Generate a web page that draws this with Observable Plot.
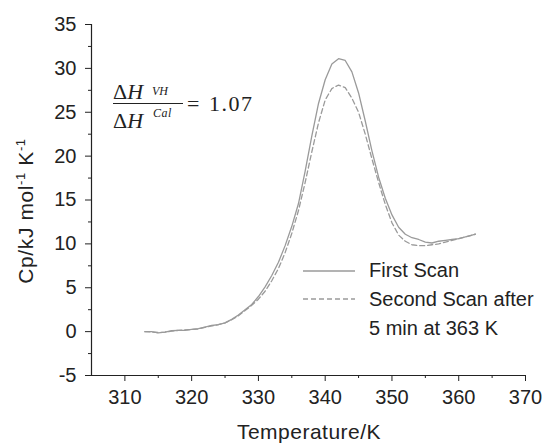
<!DOCTYPE html>
<html>
<head>
<meta charset="utf-8">
<script src="https://cdn.jsdelivr.net/npm/d3@7"></script>
<script src="https://cdn.jsdelivr.net/npm/@observablehq/plot@0.6"></script>
<style>
  html, body { margin: 0; padding: 0; background: #fff; }
  #chart { width: 543px; height: 444px; overflow: hidden; }
</style>
</head>
<body>
<div id="chart"></div>
<script>
// Temperature (K)
const temperature = [313,314,315,316,317,318,319,320,321,322,323,324,325,326,327,328,329,330,331,332,333,334,335,336,337,338,339,340,341,342,343,344,345,346,347,348,349,350,351,352,353,354,355,356,357,358,359,360,361,362,362.5];
// First scan Cp (kJ mol-1 K-1)
const firstScan = [0.0,0.0,-0.15,-0.05,0.1,0.15,0.15,0.25,0.35,0.5,0.7,0.8,1.0,1.4,1.9,2.5,3.1,4.0,5.1,6.4,7.9,9.8,12.0,14.6,18.3,22.3,26.0,28.7,30.5,31.1,30.9,29.6,27.2,24.0,20.6,17.6,15.2,13.3,11.9,11.1,10.7,10.5,10.2,10.1,10.3,10.4,10.5,10.6,10.8,11.0,11.1];
// Second scan after 5 min at 363 K
const secondScan = [0.0,-0.05,-0.1,-0.05,0.05,0.15,0.2,0.25,0.3,0.5,0.65,0.8,1.0,1.35,1.8,2.4,3.0,3.7,4.6,5.8,7.2,9.0,11.2,13.8,17.0,20.5,23.8,26.4,27.7,28.1,27.8,26.6,25.0,22.5,19.7,17.0,14.5,12.4,11.0,10.3,9.9,9.8,9.8,9.9,10.0,10.2,10.4,10.6,10.8,11.0,11.1];

const xMajor = [310,320,330,340,350,360,370];
const xMinor = [315,325,335,345,355,365];
const yMajor = [-5,0,5,10,15,20,25,30,35];
const yMinor = [-2.5,2.5,7.5,12.5,17.5,22.5,27.5,32.5];

const rows1 = temperature.map((t, i) => ({t, cp: firstScan[i]}));
const rows2 = temperature.map((t, i) => ({t, cp: secondScan[i]}));

const ink = "#222";
const lineGrey = "#9a9a9a";

const chart = Plot.plot({
  width: 543,
  height: 444,
  marginLeft: 91,
  marginRight: 18,
  marginTop: 24,
  marginBottom: 69,
  style: {fontFamily: "'Liberation Sans', Arial, sans-serif", fontSize: "20px", color: ink, background: "#fff"},
  x: {domain: [305, 370]},
  y: {domain: [-5, 35]},
  marks: [
    Plot.line(rows2, {x: "t", y: "cp", stroke: lineGrey, strokeWidth: 1.3, strokeDasharray: "5,3"}),
    Plot.line(rows1, {x: "t", y: "cp", stroke: lineGrey, strokeWidth: 1.3}),
    Plot.ruleX([305], {stroke: ink, strokeWidth: 1.2}),
    Plot.ruleY([-5], {stroke: ink, strokeWidth: 1.2}),
    Plot.axisX(xMajor, {tickSize: 6, tickPadding: 8, stroke: ink, fill: ink, fontSize: 20, label: null, tickFormat: d => d}),
    Plot.axisX(xMinor, {tickSize: 3, text: null, stroke: ink, label: null}),
    Plot.axisY(yMajor, {tickSize: 6, tickPadding: 9, stroke: ink, fill: ink, fontSize: 20, label: null, tickFormat: d => d}),
    Plot.axisY(yMinor, {tickSize: 3, text: null, stroke: ink, label: null})
  ]
});

document.getElementById("chart").appendChild(chart);

const svg = d3.select(chart);
const sans = "'Liberation Sans', Arial, sans-serif";
const serif = "'Liberation Serif', 'Times New Roman', serif";

function addText(x, y, str, opts = {}) {
  return svg.append("text")
    .attr("x", x).attr("y", y)
    .attr("text-anchor", opts.anchor || "start")
    .attr("font-family", opts.family || sans)
    .attr("font-size", opts.size || 20)
    .attr("font-style", opts.italic ? "italic" : "normal")
    .attr("letter-spacing", opts.spacing || 0)
    .attr("fill", ink)
    .text(str);
}

// Axis titles
addText(309, 439, "Temperature/K", {anchor: "middle", size: 21, spacing: 0.5});

const yl = svg.append("text")
  .attr("transform", "translate(33,211) rotate(-90)")
  .attr("text-anchor", "middle")
  .attr("letter-spacing", 0.6)
  .attr("font-family", sans).attr("font-size", 21).attr("fill", ink);
yl.append("tspan").text("Cp/kJ mol");
yl.append("tspan").attr("font-size", 13).attr("dy", -8).text("-1");
yl.append("tspan").attr("dy", 8).text(" K");
yl.append("tspan").attr("font-size", 13).attr("dy", -8).text("-1");

// Legend
const legend = [
  {label: "First Scan", dash: null, ly: 271, ty: 277},
  {label: "Second Scan after", dash: "5,3", ly: 299, ty: 306}
];
legend.forEach(d => {
  svg.append("line").attr("x1", 303).attr("x2", 355).attr("y1", d.ly).attr("y2", d.ly)
    .attr("stroke", lineGrey).attr("stroke-width", 1.3)
    .attr("stroke-dasharray", d.dash);
  addText(369, d.ty, d.label);
});
addText(369, 335, "5 min at 363 K");

// Annotation: ΔH^VH / ΔH^Cal = 1.07
const num = svg.append("text").attr("x", 113).attr("y", 99).attr("text-anchor", "start")
  .attr("font-family", serif).attr("font-size", 22).attr("fill", ink);
num.append("tspan").text("Δ");
num.append("tspan").attr("font-style", "italic").text("H");
addText(152, 95, "VH", {family: serif, size: 12, italic: true});
svg.append("line").attr("x1", 113).attr("x2", 183).attr("y1", 103.5).attr("y2", 103.5)
  .attr("stroke", ink).attr("stroke-width", 1.2);
const den = svg.append("text").attr("x", 113).attr("y", 128).attr("text-anchor", "start")
  .attr("font-family", serif).attr("font-size", 22).attr("fill", ink);
den.append("tspan").text("Δ");
den.append("tspan").attr("font-style", "italic").text("H");
addText(153, 117, "Cal", {family: serif, size: 12, italic: true, spacing: 0.5});
addText(187, 111, "=", {family: serif, size: 22});
addText(209, 111, "1.07", {family: serif, size: 22, spacing: 1.5});
</script>
</body>
</html>
